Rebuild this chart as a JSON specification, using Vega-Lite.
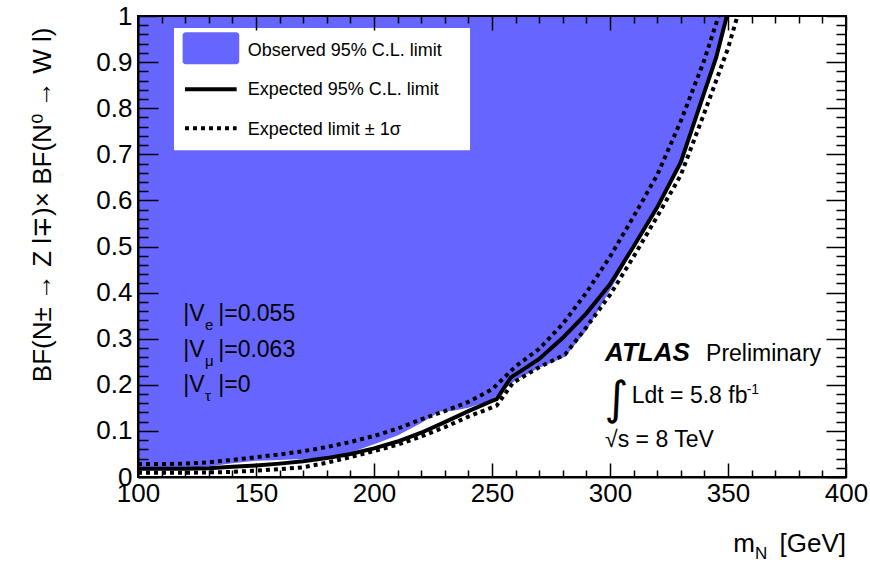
{
  "$schema": "https://vega.github.io/schema/vega-lite/v6.json",
  "width": 708,
  "height": 461,
  "autosize": {"type": "none"},
  "padding": {"left": 138, "top": 16, "right": 24, "bottom": 86},
  "background": "white",
  "config": {
    "view": {"stroke": null},
    "font": "Liberation Sans",
    "axis": {"labelFont": "Liberation Sans", "titleFont": "Liberation Sans", "labelColor": "black", "tickColor": "black", "domainColor": "black", "titleColor": "black", "titleFontWeight": "normal"}
  },
  "datasets": {
    "limits": [
      {"series": "obs", "m": 100, "value": 0.019}, {"series": "obs", "m": 110, "value": 0.019}, {"series": "obs", "m": 120, "value": 0.020}, {"series": "obs", "m": 130, "value": 0.023}, {"series": "obs", "m": 140, "value": 0.030}, {"series": "obs", "m": 150, "value": 0.035}, {"series": "obs", "m": 160, "value": 0.037}, {"series": "obs", "m": 170, "value": 0.039}, {"series": "obs", "m": 180, "value": 0.043}, {"series": "obs", "m": 190, "value": 0.053}, {"series": "obs", "m": 200, "value": 0.071}, {"series": "obs", "m": 210, "value": 0.090}, {"series": "obs", "m": 220, "value": 0.117}, {"series": "obs", "m": 228, "value": 0.142}, {"series": "obs", "m": 233, "value": 0.143}, {"series": "obs", "m": 240, "value": 0.150}, {"series": "obs", "m": 250, "value": 0.167}, {"series": "obs", "m": 255, "value": 0.190}, {"series": "obs", "m": 260, "value": 0.210}, {"series": "obs", "m": 270, "value": 0.237}, {"series": "obs", "m": 281, "value": 0.261}, {"series": "obs", "m": 290, "value": 0.318}, {"series": "obs", "m": 300, "value": 0.405}, {"series": "obs", "m": 310, "value": 0.495}, {"series": "obs", "m": 320, "value": 0.580}, {"series": "obs", "m": 330, "value": 0.678}, {"series": "obs", "m": 340, "value": 0.830}, {"series": "obs", "m": 345, "value": 0.905}, {"series": "obs", "m": 349.5, "value": 1.0},
      {"series": "exp", "m": 100, "value": 0.018}, {"series": "exp", "m": 110, "value": 0.018}, {"series": "exp", "m": 120, "value": 0.018}, {"series": "exp", "m": 130, "value": 0.019}, {"series": "exp", "m": 140, "value": 0.022}, {"series": "exp", "m": 150, "value": 0.025}, {"series": "exp", "m": 160, "value": 0.029}, {"series": "exp", "m": 170, "value": 0.034}, {"series": "exp", "m": 180, "value": 0.041}, {"series": "exp", "m": 190, "value": 0.050}, {"series": "exp", "m": 200, "value": 0.062}, {"series": "exp", "m": 210, "value": 0.077}, {"series": "exp", "m": 220, "value": 0.096}, {"series": "exp", "m": 230, "value": 0.119}, {"series": "exp", "m": 240, "value": 0.143}, {"series": "exp", "m": 250, "value": 0.165}, {"series": "exp", "m": 252, "value": 0.169}, {"series": "exp", "m": 258, "value": 0.216}, {"series": "exp", "m": 262, "value": 0.229}, {"series": "exp", "m": 270, "value": 0.256}, {"series": "exp", "m": 280, "value": 0.302}, {"series": "exp", "m": 290, "value": 0.355}, {"series": "exp", "m": 300, "value": 0.418}, {"series": "exp", "m": 310, "value": 0.500}, {"series": "exp", "m": 320, "value": 0.585}, {"series": "exp", "m": 330, "value": 0.683}, {"series": "exp", "m": 340, "value": 0.835}, {"series": "exp", "m": 345, "value": 0.910}, {"series": "exp", "m": 349.5, "value": 1.0},
      {"series": "m1s", "m": 100, "value": 0.028}, {"series": "m1s", "m": 110, "value": 0.028}, {"series": "m1s", "m": 120, "value": 0.029}, {"series": "m1s", "m": 130, "value": 0.032}, {"series": "m1s", "m": 140, "value": 0.037}, {"series": "m1s", "m": 150, "value": 0.043}, {"series": "m1s", "m": 160, "value": 0.049}, {"series": "m1s", "m": 170, "value": 0.056}, {"series": "m1s", "m": 180, "value": 0.065}, {"series": "m1s", "m": 190, "value": 0.076}, {"series": "m1s", "m": 200, "value": 0.089}, {"series": "m1s", "m": 210, "value": 0.105}, {"series": "m1s", "m": 220, "value": 0.125}, {"series": "m1s", "m": 230, "value": 0.143}, {"series": "m1s", "m": 240, "value": 0.163}, {"series": "m1s", "m": 250, "value": 0.190}, {"series": "m1s", "m": 260, "value": 0.240}, {"series": "m1s", "m": 270, "value": 0.278}, {"series": "m1s", "m": 280, "value": 0.332}, {"series": "m1s", "m": 290, "value": 0.400}, {"series": "m1s", "m": 300, "value": 0.478}, {"series": "m1s", "m": 310, "value": 0.565}, {"series": "m1s", "m": 320, "value": 0.655}, {"series": "m1s", "m": 330, "value": 0.772}, {"series": "m1s", "m": 340, "value": 0.905}, {"series": "m1s", "m": 346, "value": 1.0},
      {"series": "p1s", "m": 100, "value": 0.009}, {"series": "p1s", "m": 110, "value": 0.009}, {"series": "p1s", "m": 120, "value": 0.009}, {"series": "p1s", "m": 130, "value": 0.010}, {"series": "p1s", "m": 140, "value": 0.011}, {"series": "p1s", "m": 150, "value": 0.014}, {"series": "p1s", "m": 160, "value": 0.017}, {"series": "p1s", "m": 170, "value": 0.021}, {"series": "p1s", "m": 180, "value": 0.031}, {"series": "p1s", "m": 190, "value": 0.043}, {"series": "p1s", "m": 200, "value": 0.056}, {"series": "p1s", "m": 210, "value": 0.070}, {"series": "p1s", "m": 220, "value": 0.088}, {"series": "p1s", "m": 230, "value": 0.108}, {"series": "p1s", "m": 240, "value": 0.131}, {"series": "p1s", "m": 250, "value": 0.151}, {"series": "p1s", "m": 252, "value": 0.155}, {"series": "p1s", "m": 259, "value": 0.205}, {"series": "p1s", "m": 270, "value": 0.238}, {"series": "p1s", "m": 281, "value": 0.266}, {"series": "p1s", "m": 290, "value": 0.325}, {"series": "p1s", "m": 300, "value": 0.395}, {"series": "p1s", "m": 310, "value": 0.478}, {"series": "p1s", "m": 320, "value": 0.565}, {"series": "p1s", "m": 330, "value": 0.655}, {"series": "p1s", "m": 340, "value": 0.790}, {"series": "p1s", "m": 350, "value": 0.930}, {"series": "p1s", "m": 354, "value": 1.0}
    ]
  },
  "layer": [
    {
      "data": {"name": "limits"},
      "transform": [{"filter": "datum.series === 'obs'"}],
      "mark": {"type": "area", "color": "#6666ff", "opacity": 1},
      "encoding": {
        "x": {"field": "m", "type": "quantitative", "scale": {"domain": [100, 400], "nice": false, "zero": false},
          "axis": {"orient": "bottom", "values": [100, 110, 120, 130, 140, 150, 160, 170, 180, 190, 200, 210, 220, 230, 240, 250, 260, 270, 280, 290, 300, 310, 320, 330, 340, 350, 360, 370, 380, 390, 400],
            "labelExpr": "datum.value % 50 === 0 ? datum.label : ''",
            "ticks": false, "tickSize": 0,
            "grid": true, "gridColor": "black", "gridOpacity": 1, "gridWidth": 1.5,
            "gridDash": {"condition": {"test": "datum.value % 50 === 0", "value": [14, 433, 14, 2000]}, "value": [7, 447, 7, 2000]},
            "labelFontSize": 26, "labelPadding": 3, "labelFlush": false, "labelOverlap": false, "domain": true, "domainWidth": 2, "title": null, "zindex": 3}},
        "y": {"field": "value", "type": "quantitative", "scale": {"domain": [0, 1], "nice": false, "zero": false},
          "axis": {"orient": "left", "values": [0, 0.02, 0.04, 0.06, 0.08, 0.1, 0.12, 0.14, 0.16, 0.18, 0.2, 0.22, 0.24, 0.26, 0.28, 0.3, 0.32, 0.34, 0.36, 0.38, 0.4, 0.42, 0.44, 0.46, 0.48, 0.5, 0.52, 0.54, 0.56, 0.58, 0.6, 0.62, 0.64, 0.66, 0.68, 0.7, 0.72, 0.74, 0.76, 0.78, 0.8, 0.82, 0.84, 0.86, 0.88, 0.9, 0.92, 0.94, 0.96, 0.98, 1],
            "format": "~g", "labelExpr": "abs(datum.value * 10 - round(datum.value * 10)) < 0.001 ? datum.label : ''",
            "ticks": false, "tickSize": 0,
            "grid": true, "gridColor": "black", "gridOpacity": 1, "gridWidth": 1.5,
            "gridDash": {"condition": {"test": "abs(datum.value * 10 - round(datum.value * 10)) < 0.001", "value": [20, 668, 20, 2000]}, "value": [10, 688, 10, 2000]},
            "labelFontSize": 26, "labelPadding": 6, "labelFlush": false, "labelOverlap": false, "domain": true, "domainWidth": 2, "zindex": 3,
            "title": "BF(N± → Z l∓)× BF(N⁰ → W l)", "titleFontSize": 26, "titleAngle": 270, "titleAlign": "right", "titleBaseline": "alphabetic", "titleX": -88, "titleY": 11}},
        "y2": {"datum": 1}
      }
    },
    {
      "data": {"values": [{}]},
      "mark": {"type": "rect", "color": "white"},
      "encoding": {
        "x": {"datum": 115.25, "type": "quantitative", "scale": {"domain": [100, 400], "nice": false, "zero": false}, "axis": null},
        "x2": {"datum": 240.7},
        "y": {"datum": 0.974, "type": "quantitative", "scale": {"domain": [0, 1], "nice": false, "zero": false}, "axis": null},
        "y2": {"datum": 0.709}
      }
    },
    {
      "data": {"name": "limits"},
      "transform": [{"filter": "datum.series === 'exp'"}],
      "mark": {"type": "line", "color": "black", "strokeWidth": 4},
      "encoding": {
        "x": {"field": "m", "type": "quantitative", "scale": {"domain": [100, 400], "nice": false, "zero": false}, "axis": null},
        "y": {"field": "value", "type": "quantitative", "scale": {"domain": [0, 1], "nice": false, "zero": false}, "axis": null}
      }
    },
    {
      "data": {"name": "limits"},
      "transform": [{"filter": "datum.series === 'm1s'"}],
      "mark": {"type": "line", "color": "black", "strokeWidth": 4, "strokeDash": [4, 4]},
      "encoding": {
        "x": {"field": "m", "type": "quantitative", "scale": {"domain": [100, 400], "nice": false, "zero": false}, "axis": null},
        "y": {"field": "value", "type": "quantitative", "scale": {"domain": [0, 1], "nice": false, "zero": false}, "axis": null}
      }
    },
    {
      "data": {"name": "limits"},
      "transform": [{"filter": "datum.series === 'p1s'"}],
      "mark": {"type": "line", "color": "black", "strokeWidth": 4, "strokeDash": [4, 4]},
      "encoding": {
        "x": {"field": "m", "type": "quantitative", "scale": {"domain": [100, 400], "nice": false, "zero": false}, "axis": null},
        "y": {"field": "value", "type": "quantitative", "scale": {"domain": [0, 1], "nice": false, "zero": false}, "axis": null}
      }
    },
    {
      "data": {"values": [{}]},
      "mark": {"type": "rect", "fill": "transparent", "stroke": "black", "strokeWidth": 2},
      "encoding": {
        "x": {"datum": 100, "type": "quantitative", "scale": {"domain": [100, 400], "nice": false, "zero": false}, "axis": null}, "x2": {"datum": 400},
        "y": {"datum": 0, "type": "quantitative", "scale": {"domain": [0, 1], "nice": false, "zero": false}, "axis": null}, "y2": {"datum": 1}
      }
    },
    {
      "data": {"values": [{}]},
      "mark": {"type": "rect", "color": "#6666ff", "cornerRadius": 3},
      "encoding": {
        "x": {"datum": 118.9, "type": "quantitative", "scale": {"domain": [100, 400], "nice": false, "zero": false}, "axis": null}, "x2": {"datum": 142.9},
        "y": {"datum": 0.9646, "type": "quantitative", "scale": {"domain": [0, 1], "nice": false, "zero": false}, "axis": null}, "y2": {"datum": 0.8952}
      }
    },
    {
      "data": {"values": [{}]},
      "mark": {"type": "rule", "color": "black", "strokeWidth": 4},
      "encoding": {
        "x": {"datum": 119.9, "type": "quantitative", "scale": {"domain": [100, 400], "nice": false, "zero": false}, "axis": null}, "x2": {"datum": 141.8},
        "y": {"datum": 0.841, "type": "quantitative", "scale": {"domain": [0, 1], "nice": false, "zero": false}, "axis": null}
      }
    },
    {
      "data": {"values": [{}]},
      "mark": {"type": "rule", "color": "black", "strokeWidth": 4, "strokeDash": [4, 4]},
      "encoding": {
        "x": {"datum": 119.9, "type": "quantitative", "scale": {"domain": [100, 400], "nice": false, "zero": false}, "axis": null}, "x2": {"datum": 141.8},
        "y": {"datum": 0.7564, "type": "quantitative", "scale": {"domain": [0, 1], "nice": false, "zero": false}, "axis": null}
      }
    },
    {
      "data": {"values": [{}]},
      "mark": {"type": "text", "text": "Observed 95% C.L. limit", "fontSize": 18, "align": "left", "baseline": "alphabetic", "color": "black"},
      "encoding": {"x": {"datum": 146.5, "type": "quantitative", "scale": {"domain": [100, 400], "nice": false, "zero": false}, "axis": null}, "y": {"datum": 0.913, "type": "quantitative", "scale": {"domain": [0, 1], "nice": false, "zero": false}, "axis": null}}
    },
    {
      "data": {"values": [{}]},
      "mark": {"type": "text", "text": "Expected 95% C.L. limit", "fontSize": 18, "align": "left", "baseline": "alphabetic", "color": "black"},
      "encoding": {"x": {"datum": 146.5, "type": "quantitative", "scale": {"domain": [100, 400], "nice": false, "zero": false}, "axis": null}, "y": {"datum": 0.828, "type": "quantitative", "scale": {"domain": [0, 1], "nice": false, "zero": false}, "axis": null}}
    },
    {
      "data": {"values": [{}]},
      "mark": {"type": "text", "text": "Expected limit ± 1σ", "fontSize": 18, "align": "left", "baseline": "alphabetic", "color": "black"},
      "encoding": {"x": {"datum": 146.5, "type": "quantitative", "scale": {"domain": [100, 400], "nice": false, "zero": false}, "axis": null}, "y": {"datum": 0.742, "type": "quantitative", "scale": {"domain": [0, 1], "nice": false, "zero": false}, "axis": null}}
    },
    {
      "data": {"values": [{}]},
      "mark": {"type": "text", "text": "|V", "fontSize": 23, "align": "left", "baseline": "alphabetic", "color": "black"},
      "encoding": {"x": {"datum": 119.2, "type": "quantitative", "scale": {"domain": [100, 400], "nice": false, "zero": false}, "axis": null}, "y": {"datum": 0.3384, "type": "quantitative", "scale": {"domain": [0, 1], "nice": false, "zero": false}, "axis": null}}
    },
    {
      "data": {"values": [{}]},
      "mark": {"type": "text", "text": "e", "fontSize": 15, "align": "left", "baseline": "alphabetic", "color": "black"},
      "encoding": {"x": {"datum": 128.4, "type": "quantitative", "scale": {"domain": [100, 400], "nice": false, "zero": false}, "axis": null}, "y": {"datum": 0.3189, "type": "quantitative", "scale": {"domain": [0, 1], "nice": false, "zero": false}, "axis": null}}
    },
    {
      "data": {"values": [{}]},
      "mark": {"type": "text", "text": "|=0.055", "fontSize": 23, "align": "left", "baseline": "alphabetic", "color": "black"},
      "encoding": {"x": {"datum": 134.0, "type": "quantitative", "scale": {"domain": [100, 400], "nice": false, "zero": false}, "axis": null}, "y": {"datum": 0.3384, "type": "quantitative", "scale": {"domain": [0, 1], "nice": false, "zero": false}, "axis": null}}
    },
    {
      "data": {"values": [{}]},
      "mark": {"type": "text", "text": "|V", "fontSize": 23, "align": "left", "baseline": "alphabetic", "color": "black"},
      "encoding": {"x": {"datum": 119.2, "type": "quantitative", "scale": {"domain": [100, 400], "nice": false, "zero": false}, "axis": null}, "y": {"datum": 0.261, "type": "quantitative", "scale": {"domain": [0, 1], "nice": false, "zero": false}, "axis": null}}
    },
    {
      "data": {"values": [{}]},
      "mark": {"type": "text", "text": "μ", "fontSize": 15, "align": "left", "baseline": "alphabetic", "color": "black"},
      "encoding": {"x": {"datum": 128.4, "type": "quantitative", "scale": {"domain": [100, 400], "nice": false, "zero": false}, "axis": null}, "y": {"datum": 0.2414, "type": "quantitative", "scale": {"domain": [0, 1], "nice": false, "zero": false}, "axis": null}}
    },
    {
      "data": {"values": [{}]},
      "mark": {"type": "text", "text": "|=0.063", "fontSize": 23, "align": "left", "baseline": "alphabetic", "color": "black"},
      "encoding": {"x": {"datum": 134.0, "type": "quantitative", "scale": {"domain": [100, 400], "nice": false, "zero": false}, "axis": null}, "y": {"datum": 0.261, "type": "quantitative", "scale": {"domain": [0, 1], "nice": false, "zero": false}, "axis": null}}
    },
    {
      "data": {"values": [{}]},
      "mark": {"type": "text", "text": "|V", "fontSize": 23, "align": "left", "baseline": "alphabetic", "color": "black"},
      "encoding": {"x": {"datum": 119.2, "type": "quantitative", "scale": {"domain": [100, 400], "nice": false, "zero": false}, "axis": null}, "y": {"datum": 0.1837, "type": "quantitative", "scale": {"domain": [0, 1], "nice": false, "zero": false}, "axis": null}}
    },
    {
      "data": {"values": [{}]},
      "mark": {"type": "text", "text": "τ", "fontSize": 15, "align": "left", "baseline": "alphabetic", "color": "black"},
      "encoding": {"x": {"datum": 128.4, "type": "quantitative", "scale": {"domain": [100, 400], "nice": false, "zero": false}, "axis": null}, "y": {"datum": 0.1649, "type": "quantitative", "scale": {"domain": [0, 1], "nice": false, "zero": false}, "axis": null}}
    },
    {
      "data": {"values": [{}]},
      "mark": {"type": "text", "text": "|=0", "fontSize": 23, "align": "left", "baseline": "alphabetic", "color": "black"},
      "encoding": {"x": {"datum": 134.0, "type": "quantitative", "scale": {"domain": [100, 400], "nice": false, "zero": false}, "axis": null}, "y": {"datum": 0.1837, "type": "quantitative", "scale": {"domain": [0, 1], "nice": false, "zero": false}, "axis": null}}
    },
    {
      "data": {"values": [{}]},
      "mark": {"type": "text", "text": "ATLAS", "fontSize": 26, "fontWeight": "bold", "fontStyle": "italic", "align": "left", "baseline": "alphabetic", "color": "black"},
      "encoding": {"x": {"datum": 297.9, "type": "quantitative", "scale": {"domain": [100, 400], "nice": false, "zero": false}, "axis": null}, "y": {"datum": 0.2516, "type": "quantitative", "scale": {"domain": [0, 1], "nice": false, "zero": false}, "axis": null}}
    },
    {
      "data": {"values": [{}]},
      "mark": {"type": "text", "text": "Preliminary", "fontSize": 23, "align": "left", "baseline": "alphabetic", "color": "black"},
      "encoding": {"x": {"datum": 340.7, "type": "quantitative", "scale": {"domain": [100, 400], "nice": false, "zero": false}, "axis": null}, "y": {"datum": 0.2516, "type": "quantitative", "scale": {"domain": [0, 1], "nice": false, "zero": false}, "axis": null}}
    },
    {
      "data": {"values": [{}]},
      "mark": {"type": "text", "text": "∫", "font": "DejaVu Sans", "fontSize": 46, "align": "center", "baseline": "alphabetic", "color": "black"},
      "encoding": {"x": {"datum": 302.75, "type": "quantitative", "scale": {"domain": [100, 400], "nice": false, "zero": false}, "axis": null}, "y": {"datum": 0.1367, "type": "quantitative", "scale": {"domain": [0, 1], "nice": false, "zero": false}, "axis": null}}
    },
    {
      "data": {"values": [{}]},
      "mark": {"type": "text", "text": "Ldt = 5.8 fb", "fontSize": 23, "align": "left", "baseline": "alphabetic", "color": "black"},
      "encoding": {"x": {"datum": 309.2, "type": "quantitative", "scale": {"domain": [100, 400], "nice": false, "zero": false}, "axis": null}, "y": {"datum": 0.16, "type": "quantitative", "scale": {"domain": [0, 1], "nice": false, "zero": false}, "axis": null}}
    },
    {
      "data": {"values": [{}]},
      "mark": {"type": "text", "text": "-1", "fontSize": 14, "align": "left", "baseline": "alphabetic", "color": "black"},
      "encoding": {"x": {"datum": 357.9, "type": "quantitative", "scale": {"domain": [100, 400], "nice": false, "zero": false}, "axis": null}, "y": {"datum": 0.18, "type": "quantitative", "scale": {"domain": [0, 1], "nice": false, "zero": false}, "axis": null}}
    },
    {
      "data": {"values": [{}]},
      "mark": {"type": "text", "text": "√s = 8 TeV", "fontSize": 23, "align": "left", "baseline": "alphabetic", "color": "black"},
      "encoding": {"x": {"datum": 297.9, "type": "quantitative", "scale": {"domain": [100, 400], "nice": false, "zero": false}, "axis": null}, "y": {"datum": 0.0657, "type": "quantitative", "scale": {"domain": [0, 1], "nice": false, "zero": false}, "axis": null}}
    },
    {
      "data": {"values": [{}]},
      "mark": {"type": "text", "text": "m", "fontSize": 26, "align": "left", "baseline": "alphabetic", "color": "black"},
      "encoding": {"x": {"datum": 352.2, "type": "quantitative", "scale": {"domain": [100, 400], "nice": false, "zero": false}, "axis": null}, "y": {"datum": -0.162, "type": "quantitative", "scale": {"domain": [0, 1], "nice": false, "zero": false}, "axis": null}}
    },
    {
      "data": {"values": [{}]},
      "mark": {"type": "text", "text": "N", "fontSize": 17, "align": "left", "baseline": "alphabetic", "color": "black"},
      "encoding": {"x": {"datum": 361.4, "type": "quantitative", "scale": {"domain": [100, 400], "nice": false, "zero": false}, "axis": null}, "y": {"datum": -0.178, "type": "quantitative", "scale": {"domain": [0, 1], "nice": false, "zero": false}, "axis": null}}
    },
    {
      "data": {"values": [{}]},
      "mark": {"type": "text", "text": "[GeV]", "fontSize": 26, "align": "right", "baseline": "alphabetic", "color": "black"},
      "encoding": {"x": {"datum": 400, "type": "quantitative", "scale": {"domain": [100, 400], "nice": false, "zero": false}, "axis": null}, "y": {"datum": -0.162, "type": "quantitative", "scale": {"domain": [0, 1], "nice": false, "zero": false}, "axis": null}}
    }
  ],
  "resolve": {"scale": {"x": "independent", "y": "independent"}, "axis": {"x": "independent", "y": "independent"}}
}
